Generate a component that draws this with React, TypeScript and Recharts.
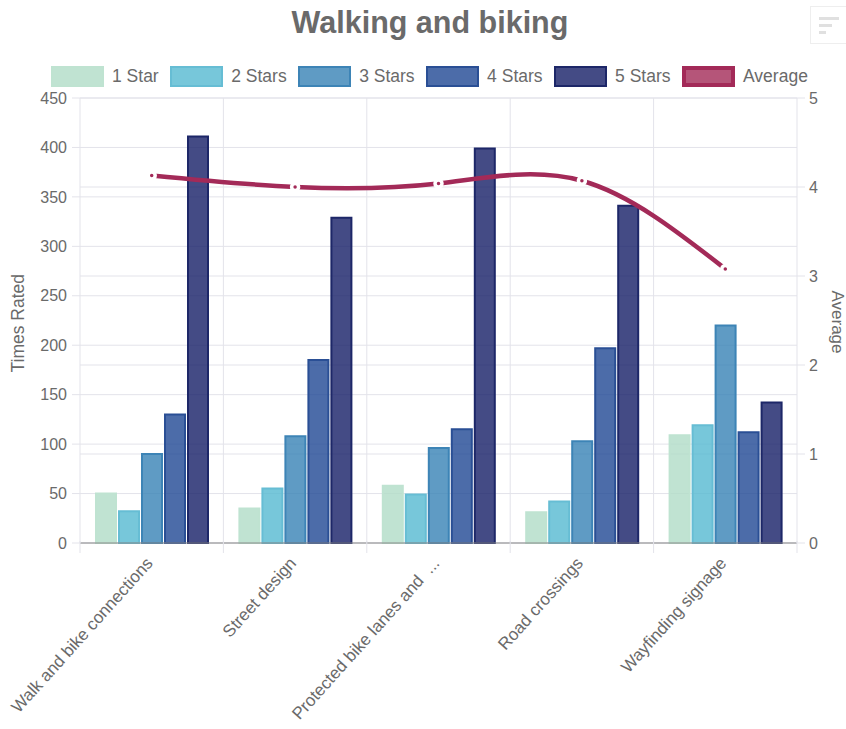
import {
  ComposedChart, Bar, Line, XAxis, YAxis, CartesianGrid, Legend,
} from 'recharts'

const categories = [
  'Walk and bike connections',
  'Street design',
  'Protected bike lanes and  ...',
  'Road crossings',
  'Wayfinding signage',
]
const oneStar = [50, 35, 58, 31, 109]
const twoStars = [32, 55, 49, 42, 119]
const threeStars = [90, 108, 96, 103, 220]
const fourStars = [130, 185, 115, 197, 112]
const fiveStars = [411, 329, 399, 341, 142]
const average = [4.13, 4.0, 4.04, 4.07, 3.08]

const leftTicks = [0, 50, 100, 150, 200, 250, 300, 350, 400, 450]
const rightTicks = [0, 1, 2, 3, 4, 5]

const barSeries = [
  { key: 'one', name: '1 Star', values: oneStar, fill: '#b0dcc7', stroke: '#bfe3d1' },
  { key: 'two', name: '2 Stars', values: twoStars, fill: '#55b9d1', stroke: '#66bdd4' },
  { key: 'three', name: '3 Stars', values: threeStars, fill: '#3782b5', stroke: '#3d84b6' },
  { key: 'four', name: '4 Stars', values: fourStars, fill: '#1f4794', stroke: '#2a4f95' },
  { key: 'five', name: '5 Stars', values: fiveStars, fill: '#151e66', stroke: '#1d2768' },
]
const CRIMSON = '#a32a58'

const data = categories.map((label, i) => ({
  label,
  one: oneStar[i],
  two: twoStars[i],
  three: threeStars[i],
  four: fourStars[i],
  five: fiveStars[i],
  average: average[i],
}))

const W = 846
const H = 729
const PLOT_LEFT = 80
const PLOT_RIGHT = 797
const STEP = (PLOT_RIGHT - PLOT_LEFT) / categories.length
const GRID = '#e3e3ea'
const TEXT = '#6a6a6a'
const FONT = '"Liberation Sans", Arial, sans-serif'

function CategoryTick({ x, y, index, payload }: any) {
  const edge = x - STEP / 2
  const tx = x + 2
  const ty = y + 13
  return (
    <g>
      <line x1={edge} x2={edge} y1={y - 10} y2={y + 2} stroke={GRID} />
      {index === categories.length - 1 && (
        <line x1={x + STEP / 2} x2={x + STEP / 2} y1={y - 10} y2={y + 2} stroke={GRID} />
      )}
      <text
        x={tx}
        y={ty}
        textAnchor="end"
        fontSize={17}
        fill={TEXT}
        style={{ whiteSpace: 'pre' }}
        transform={`rotate(-48 ${tx} ${ty})`}
      >
        {payload.value}
      </text>
    </g>
  )
}

function LegendRow() {
  const items = [...barSeries.map(s => ({ name: s.name, fill: s.fill, stroke: s.stroke })),
    { name: 'Average', fill: CRIMSON, stroke: CRIMSON }]
  return (
    <div style={{ display: 'flex', gap: 11.5, paddingLeft: 51, fontFamily: FONT, fontSize: 17.5, color: TEXT }}>
      {items.map(it => (
        <div key={it.name} style={{ display: 'flex', alignItems: 'center', gap: 8 }}>
          <span style={{
            display: 'inline-block', width: 53, height: 21, boxSizing: 'border-box',
            background: `${it.fill}cc`, border: `${it.name === 'Average' ? 4 : 2}px solid ${it.stroke}`,
          }} />
          <span>{it.name}</span>
        </div>
      ))}
    </div>
  )
}

export default function App() {
  return (
    <div style={{ position: 'absolute', left: 0, top: 0, width: W, height: H, background: '#fff', overflow: 'hidden', fontFamily: FONT }}>
      <div style={{ position: 'absolute', left: 0, width: 860, top: 5, textAlign: 'center', fontSize: 30.5, fontWeight: 700, color: TEXT }}>
        Walking and biking
      </div>
      <div style={{ position: 'absolute', left: 810, top: 6, width: 40, height: 38, border: '1px solid #eee', boxSizing: 'border-box', padding: '10px 8px' }}>
        <div style={{ width: 20, height: 3, background: '#e0e0e0', marginBottom: 4 }} />
        <div style={{ width: 13, height: 3, background: '#e0e0e0', marginBottom: 4 }} />
        <div style={{ width: 7, height: 3, background: '#e0e0e0' }} />
      </div>
      <ComposedChart
        width={W}
        height={H}
        data={data}
        margin={{ top: 77, right: 0, bottom: 0, left: 0 }}
        barSize={20}
        barGap={3}
        style={{ position: 'absolute', left: 0, top: 0 }}
      >
        <CartesianGrid
          yAxisId="left"
          stroke={GRID}
          syncWithTicks
          verticalCoordinatesGenerator={() => [1, 2, 3, 4].map(i => PLOT_LEFT + i * STEP)}
        />
        <CartesianGrid yAxisId="right" stroke={GRID} vertical={false} syncWithTicks />
        <XAxis
          dataKey="label"
          height={186}
          interval={0}
          tick={<CategoryTick />}
          tickLine={false}
          axisLine={{ stroke: '#8a8a8a' }}
        />
        <YAxis
          yAxisId="left"
          width={80}
          domain={[0, 450]}
          ticks={leftTicks}
          interval={0}
          tick={{ fontSize: 16, fill: TEXT, fontFamily: FONT }}
          tickLine={{ stroke: GRID }}
          axisLine={{ stroke: GRID }}
          tickSize={8}
          tickMargin={5}
          label={{ value: 'Times Rated', angle: -90, position: 'insideLeft', offset: 18, dy: 52, style: { fontSize: 17.5, fill: TEXT, fontFamily: FONT } }}
        />
        <YAxis
          yAxisId="right"
          orientation="right"
          width={49}
          domain={[0, 5]}
          ticks={rightTicks}
          interval={0}
          tick={{ fontSize: 16, fill: TEXT, fontFamily: FONT }}
          tickLine={{ stroke: GRID }}
          axisLine={{ stroke: GRID }}
          tickSize={8}
          tickMargin={4}
          label={{ value: 'Average', angle: 90, position: 'insideRight', offset: 8, dy: 33, style: { fontSize: 17, fill: TEXT, fontFamily: FONT } }}
        />
        <Legend verticalAlign="top" height={0} content={<LegendRow />} wrapperStyle={{ top: 66, left: 0, width: W }} />
        <Line
          yAxisId="right"
          dataKey="average"
          name="Average"
          type="natural"
          stroke={CRIMSON}
          strokeWidth={4.5}
          dot={{ r: 3.5, fill: CRIMSON, stroke: '#fff', strokeWidth: 3.5 }}
          isAnimationActive={false}
        />
        {barSeries.map(s => (
          <Bar
            key={s.key}
            yAxisId="left"
            dataKey={s.key}
            name={s.name}
            fill={s.fill}
            fillOpacity={0.8}
            stroke={s.stroke}
            strokeWidth={2}
            isAnimationActive={false}
          />
        ))}
      </ComposedChart>
    </div>
  )
}
